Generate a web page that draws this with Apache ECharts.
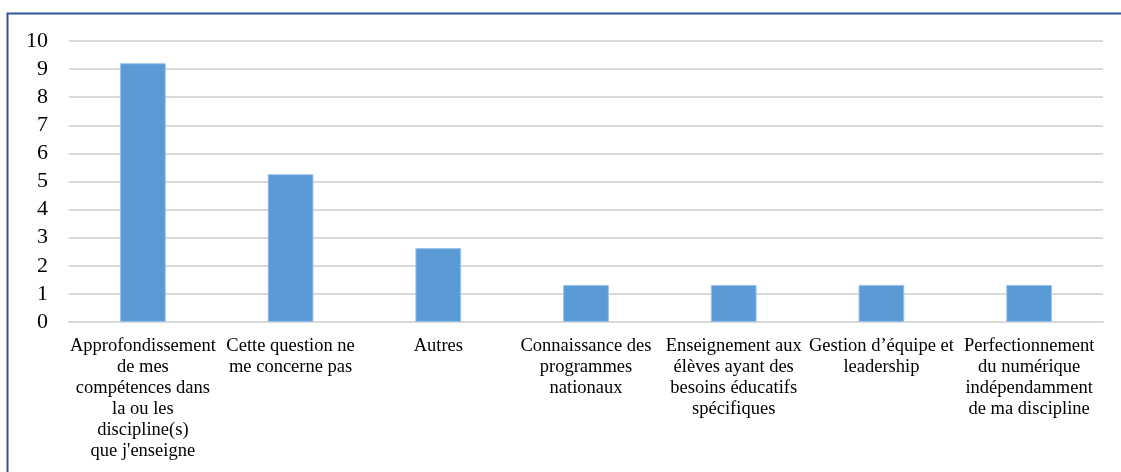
<!DOCTYPE html>
<html>
<head>
<meta charset="utf-8">
<script src="https://cdn.jsdelivr.net/npm/echarts@6/dist/echarts.min.js"></script>
<style>
  html, body { margin: 0; padding: 0; background: #fff; }
  #chart { width: 1121px; height: 472px; }
</style>
</head>
<body>
<div id="chart"></div>
<script>
// catégories (retours à la ligne comme sur l'original)
var categories = [
  "Approfondissement\nde mes\ncompétences dans\nla ou les\ndiscipline(s)\nque j'enseigne",
  "Cette question ne\nme concerne pas",
  "Autres",
  "Connaissance des\nprogrammes\nnationaux",
  "Enseignement aux\nélèves ayant des\nbesoins éducatifs\nspécifiques",
  "Gestion d\u2019équipe et\nleadership",
  "Perfectionnement\ndu numérique\nindépendamment\nde ma discipline"
];
var values = [9.21, 5.26, 2.63, 1.32, 1.32, 1.32, 1.32];
var yMin = 0;
var yMax = 10;
var yStep = 1;

var serif = "'Liberation Serif', 'DejaVu Serif', serif";

var myChart = echarts.init(document.getElementById("chart"));

var option = {
  animation: false,
  backgroundColor: "#fff",
  // cadre bleu autour du graphique
  graphic: [
    {
      type: "rect",
      left: 5,
      top: 11,
      shape: { width: 1200, height: 500 },
      style: { fill: "none", stroke: "#2F5597", lineWidth: 2 },
      silent: true
    }
  ],
  grid: {
    left: 69,
    right: 18,
    top: 41,
    bottom: 150
  },
  xAxis: {
    type: "category",
    data: categories,
    axisLine: { show: true, lineStyle: { color: "#D9D9D9", width: 2 } },
    axisTick: { show: false },
    axisLabel: {
      interval: 0,
      margin: 14,
      color: "#000",
      fontFamily: serif,
      fontSize: 18.5,
      lineHeight: 21,
      align: "center"
    }
  },
  yAxis: {
    type: "value",
    min: yMin,
    max: yMax,
    interval: yStep,
    axisLine: { show: false },
    axisTick: { show: false },
    splitLine: { lineStyle: { color: "#D9D9D9", width: 2 } },
    axisLabel: {
      margin: 21,
      color: "#000",
      fontFamily: serif,
      fontSize: 22
    }
  },
  series: [
    {
      type: "bar",
      data: values,
      barWidth: "31%",
      itemStyle: {
        color: "#5B9BD5",
        borderColor: "#9CC3EA",
        borderWidth: 1
      }
    }
  ]
};

myChart.setOption(option);
</script>
</body>
</html>
